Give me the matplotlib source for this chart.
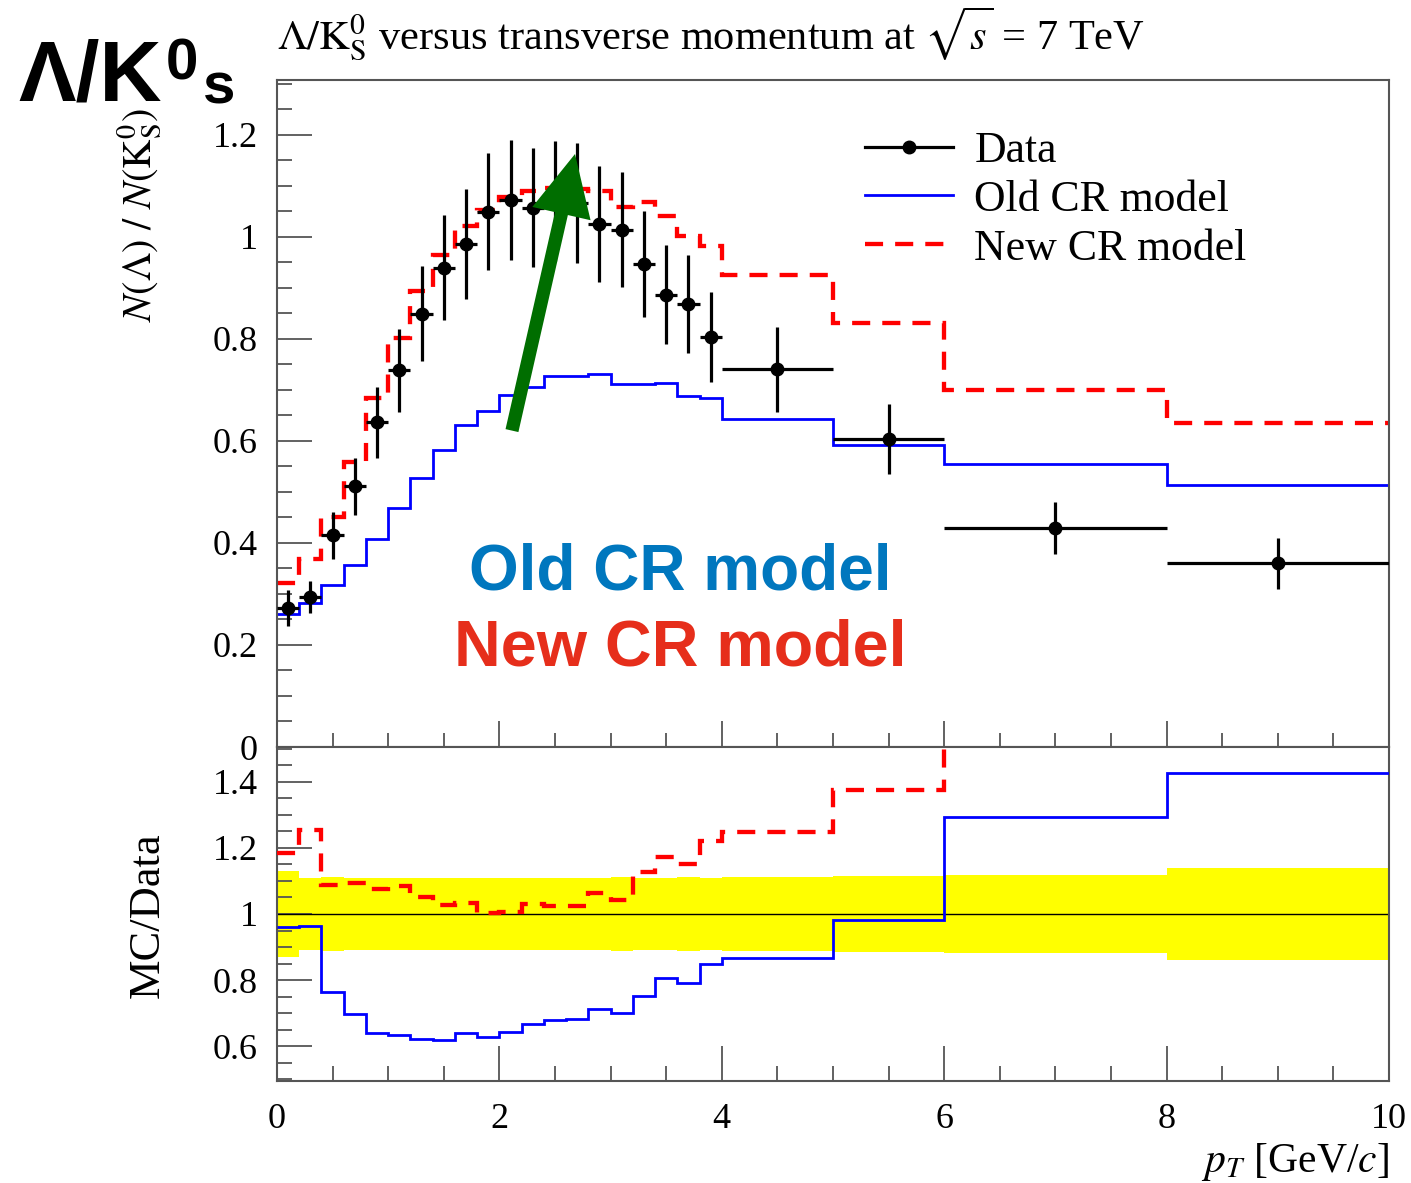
import numpy as np
import matplotlib.pyplot as plt
from matplotlib.lines import Line2D
from matplotlib.ticker import MultipleLocator, FuncFormatter

plt.rcParams.update({
    "font.family": ["Liberation Serif", "DejaVu Serif"],
    "mathtext.fontset": "stix",
})

W, H = 1411, 1183

# pT bin edges [GeV/c]
pt_edges = [0.0, 0.2, 0.4, 0.6, 0.8, 1.0, 1.2, 1.4, 1.6, 1.8, 2.0,
            2.2, 2.4, 2.6, 2.8, 3.0, 3.2, 3.4, 3.6, 3.8, 4.0,
            5.0, 6.0, 8.0, 10.0]

# Lambda / K0S ratio per bin
data_val = [0.272, 0.294, 0.415, 0.511, 0.636, 0.738, 0.849, 0.939, 0.986, 1.049,
            1.072, 1.057, 1.070, 1.066, 1.025, 1.014, 0.947, 0.886, 0.869, 0.804,
            0.740, 0.603, 0.429, 0.360]
data_err = [0.035, 0.032, 0.046, 0.056, 0.070, 0.081, 0.093, 0.103, 0.108, 0.115,
            0.118, 0.116, 0.118, 0.117, 0.113, 0.112, 0.104, 0.097, 0.096, 0.088,
            0.083, 0.069, 0.051, 0.050]
old_cr = [0.261, 0.283, 0.317, 0.357, 0.407, 0.468, 0.528, 0.582, 0.631, 0.659,
          0.690, 0.706, 0.727, 0.727, 0.731, 0.711, 0.712, 0.714, 0.688, 0.683,
          0.642, 0.592, 0.555, 0.513]
new_cr = [0.322, 0.369, 0.451, 0.559, 0.684, 0.801, 0.893, 0.964, 1.020, 1.053,
          1.077, 1.090, 1.096, 1.093, 1.089, 1.058, 1.067, 1.040, 1.001, 0.981,
          0.924, 0.830, 0.699, 0.634]

edges = np.array(pt_edges)
centers = 0.5 * (edges[:-1] + edges[1:])
half_w = 0.5 * np.diff(edges)
dval = np.array(data_val)
derr = np.array(data_err)
rel_err = derr / dval
old_ratio = np.array(old_cr) / dval
new_ratio = np.array(new_cr) / dval

BLUE = "#0000FF"
RED = "#FF0000"
FRAME = "#555555"
DASH = (0, (4.2, 2.8))


def fx(x):
    return x / W


def fy(y):
    return 1 - y / H


fig = plt.figure(figsize=(W / 100, H / 100), dpi=100)
ax1 = fig.add_axes([fx(277), fy(747), (1389 - 277) / W, (747 - 80) / H])
ax2 = fig.add_axes([fx(277), fy(1081), (1389 - 277) / W, (1081 - 747) / H])

# --- upper panel: ratio vs pT
ax1.stairs(old_cr, edges, baseline=None, color=BLUE, lw=2.0, zorder=2)
ax1.stairs(new_cr, edges, baseline=None, color=RED, lw=3.1,
           linestyle=DASH, zorder=2)
ax1.errorbar(centers, dval, xerr=half_w, yerr=derr, fmt="o", color="black",
             ms=9, elinewidth=2.3, capsize=0, zorder=3)

ax1.set_xlim(0, 10)
ax1.set_ylim(0, 1.307)

legend_handles = [
    Line2D([], [], color="black", lw=2.3, marker="o", ms=9),
    Line2D([], [], color=BLUE, lw=2.0),
    Line2D([], [], color=RED, lw=3.1, linestyle=DASH),
]
fig.legend(legend_handles, ["Data", "Old CR model", "New CR model"],
           loc="upper left", bbox_to_anchor=(fx(865), fy(131)),
           frameon=False, fontsize=31.5, handlelength=2.0, handletextpad=0.5,
           labelspacing=0.2, borderpad=0, borderaxespad=0)

# --- lower panel: MC / Data
ax2.stairs(1 + rel_err, edges, baseline=1 - rel_err, fill=True,
           color="#FFFF00", lw=0, zorder=1)
ax2.axhline(1.0, color="black", lw=1.0, zorder=2)
ax2.stairs(old_ratio, edges, baseline=None, color=BLUE, lw=2.0, zorder=3)
ax2.stairs(new_ratio, edges, baseline=None, color=RED, lw=3.1,
           linestyle=DASH, zorder=3)
ax2.set_xlim(0, 10)
ax2.set_ylim(0.495, 1.505)

fmt = FuncFormatter(lambda v, pos: f"{v:g}")
for ax in (ax1, ax2):
    for sp in ax.spines.values():
        sp.set_color(FRAME)
        sp.set_linewidth(1.5)
    ax.xaxis.set_major_locator(MultipleLocator(2))
    ax.xaxis.set_minor_locator(MultipleLocator(0.5))
    ax.yaxis.set_major_formatter(fmt)
    ax.tick_params(axis="y", which="major", direction="in", length=25,
                   width=1.3, color=FRAME, labelsize=26, pad=14)
    ax.tick_params(axis="y", which="minor", direction="in", length=11,
                   width=1.3, color=FRAME)
    ax.tick_params(top=False, right=False, which="both")

ax1.yaxis.set_major_locator(MultipleLocator(0.2))
ax1.yaxis.set_minor_locator(MultipleLocator(0.05))
ax1.tick_params(axis="x", which="major", direction="in", length=19,
                width=1.3, color=FRAME, labelbottom=False)
ax1.tick_params(axis="x", which="minor", direction="in", length=10,
                width=1.3, color=FRAME)

ax2.yaxis.set_major_locator(MultipleLocator(0.2))
ax2.yaxis.set_minor_locator(MultipleLocator(0.05))
ax2.xaxis.set_major_formatter(fmt)
ax2.tick_params(axis="x", which="major", direction="in", length=25,
                width=1.3, color=FRAME, labelsize=26, pad=16)
ax2.tick_params(axis="x", which="minor", direction="in", length=11,
                width=1.3, color=FRAME)

# titles and axis labels
fig.text(fx(277), fy(50), r"$\Lambda/\mathrm{K}^0_\mathrm{S}$ versus transverse momentum at $\sqrt{s}$ = 7 TeV",
         fontsize=30.5, ha="left", va="baseline")
fig.text(fx(140), fy(215), r"$N(\Lambda)\ /\ N(\mathrm{K}^0_\mathrm{S})$",
         fontsize=29, rotation=90, ha="center", va="center")
fig.text(fx(148), fy(915), "MC/Data", fontsize=32, rotation=90,
         ha="center", va="center")
fig.text(fx(1389), fy(1172), r"$p_T$ [GeV/$c$]", fontsize=30,
         ha="right", va="baseline")

# slide annotations
fig.text(fx(18), fy(100), "Λ/K", fontsize=62, fontweight="bold",
         family="Liberation Sans", ha="left", va="baseline")
fig.text(fx(166), fy(80), "0", fontsize=42, fontweight="bold",
         family="Liberation Sans", ha="left", va="baseline")
fig.text(fx(203), fy(104), "s", fontsize=42, fontweight="bold",
         family="Liberation Sans", ha="left", va="baseline")
fig.text(fx(680), fy(572), "Old CR model", fontsize=46, fontweight="bold",
         family="Liberation Sans", color="#0077BE", ha="center", va="center")
fig.text(fx(680), fy(648), "New CR model", fontsize=46.5, fontweight="bold",
         family="Liberation Sans", color="#E62E1B", ha="center", va="center")

ax1.annotate("", xy=(2.68, 1.162), xytext=(2.113, 0.620),
             arrowprops=dict(arrowstyle="simple,head_length=0.44,head_width=0.43,tail_width=0.095",
                             mutation_scale=100, color="#006E00", lw=0,
                             shrinkA=0, shrinkB=0),
             zorder=5)

fig.savefig("out.png", dpi=100)
